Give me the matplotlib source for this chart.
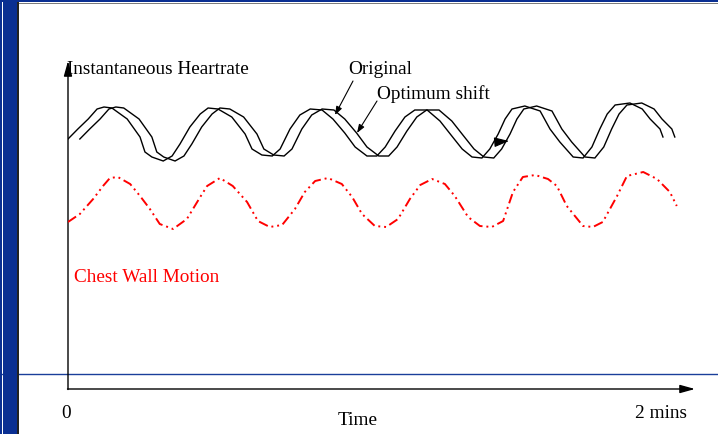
import matplotlib
matplotlib.use("Agg")
import matplotlib.pyplot as plt
from matplotlib.patches import Rectangle

# ---------------- data ----------------
# Instantaneous heart rate (original), time in seconds, value in arbitrary units
hr_time = [0.0, 2.0, 4.1, 5.9, 7.3, 8.9, 12.0, 14.6, 15.6, 17.0, 19.3, 21.1, 22.7, 24.7,
           26.8, 28.4, 30.4, 33.2, 35.9, 37.3, 39.3, 41.4, 43.0, 45.0, 47.0, 49.1, 51.5,
           53.7, 56.1, 58.2, 60.6, 62.6, 64.3, 66.3, 68.3, 70.3, 72.8, 75.4, 77.8, 79.9,
           81.9, 83.9, 85.5, 87.2, 88.6, 90.0, 92.6, 95.7, 97.7, 99.7, 102.4, 104.4, 106.2,
           107.8, 109.3, 110.9, 113.9, 116.4, 118.0, 120.0, 120.6]
hr_value = [250, 260, 270, 280, 282, 281, 270, 252, 237, 232, 228, 233, 245, 262,
            275, 281, 280, 272, 255, 240, 234, 233, 240, 260, 274, 280, 279,
            270, 256, 242, 233, 233, 242, 258, 272, 279, 279, 268, 253, 240,
            232, 231, 240, 255, 270, 280, 283, 278, 260, 247, 232, 231, 242,
            260, 275, 284, 286, 280, 270, 260, 252]
optimum_shift_s = 2.4  # optimum time shift of the heart-rate series

# Chest wall motion
cw_time = [0.0, 2.4, 5.1, 7.1, 8.5, 10.1, 12.6, 14.6, 16.6, 18.6, 21.3, 24.1, 26.8, 28.2,
           30.8, 33.4, 36.3, 38.5, 40.9, 43.4, 46.0, 48.0, 50.1, 52.7, 55.5, 57.6, 59.6,
           62.2, 64.5, 66.9, 69.3, 71.4, 73.8, 76.4, 78.4, 81.1, 83.5, 85.9, 88.2, 90.2,
           92.2, 94.7, 97.3, 99.1, 101.1, 104.4, 106.4, 108.4, 111.3, 113.3, 116.6, 119.4,
           122.0, 123.4]
cw_value = [167, 175, 190, 203, 211, 212, 205, 193, 180, 165, 160, 170, 192, 203,
            211, 203, 187, 168, 162, 164, 180, 197, 208, 211, 205, 192, 175,
            163, 162, 170, 190, 204, 210, 205, 193, 172, 163, 162, 168, 197,
            212, 214, 210, 203, 183, 163, 162, 167, 193, 213, 217, 210,
            197, 183]

x_labels = ["0", "2 mins"]

# ---------------- figure ----------------
W, H = 718, 435
fig = plt.figure(figsize=(W / 100, H / 100), dpi=100)
fig.patch.set_facecolor("white")

serif = ["Liberation Serif", "DejaVu Serif"]
BLUE = "#0a2f92"

# overlay (pixel coordinates) for frame decorations and text
ov = fig.add_axes([0, 0, 1, 1])
ov.set_xlim(0, W)
ov.set_ylim(H, 0)
ov.axis("off")

# horizontal blue rule
ov.plot([0, W], [374.5, 374.5], color="#1a3f9a", lw=1.0, zorder=1)
# top bar
ov.add_patch(Rectangle((0, -1), W, 4.2, color=BLUE, lw=0, zorder=3))
ov.plot([18, W], [3.8, 3.8], color="#444444", lw=0.5, zorder=3)
# left bars
ov.add_patch(Rectangle((-1, 0), 2.8, H, color=BLUE, lw=0, zorder=3))
ov.add_patch(Rectangle((2.8, 0), 14.6, H, color=BLUE, lw=0, zorder=3))
ov.add_patch(Rectangle((17.4, 3), 1.3, H, color="#222222", lw=0, zorder=3))

# axes arrows
x0, y0, xend, ytop = 68, 390, 695, 62
ov.annotate("", xy=(xend, y0), xytext=(x0 - 0.5, y0),
            arrowprops=dict(arrowstyle="-|>,head_length=0.9,head_width=0.25",
                            color="black", lw=1.0, shrinkA=0, shrinkB=0))
ov.annotate("", xy=(x0, ytop), xytext=(x0, y0 + 0.5),
            arrowprops=dict(arrowstyle="-|>,head_length=0.9,head_width=0.25",
                            color="black", lw=1.0, shrinkA=0, shrinkB=0))

# texts
fs = 13.9
ov.text(67, 70, "Instantaneous Heartrate", family=serif, fontsize=fs,
        ha="left", va="center", color="black")
ov.text(348, 70, "Original", family=serif, fontsize=fs, ha="left", va="center")
ov.text(377, 94, "Optimum shift", family=serif, fontsize=fs, ha="left", va="center")
ov.text(74, 278, "Chest Wall Motion", family=serif, fontsize=fs, ha="left",
        va="center", color="red")
ov.text(66, 414, x_labels[0], family=serif, fontsize=fs, ha="center", va="center")
ov.text(661, 414, x_labels[1], family=serif, fontsize=fs, ha="center", va="center")
ov.text(358, 421, "Time", family=serif, fontsize=fs, ha="center", va="center")

# label pointers
ov.annotate("", xy=(335, 116), xytext=(353, 82),
            arrowprops=dict(arrowstyle="-|>,head_length=0.5,head_width=0.18",
                            color="black", lw=0.8, shrinkA=0, shrinkB=0))
ov.annotate("", xy=(357, 134), xytext=(377, 102),
            arrowprops=dict(arrowstyle="-|>,head_length=0.5,head_width=0.18",
                            color="black", lw=0.8, shrinkA=0, shrinkB=0))
# shift direction arrow
ov.annotate("", xy=(509, 142), xytext=(497, 143),
            arrowprops=dict(arrowstyle="-|>,head_length=0.9,head_width=0.3",
                            color="black", lw=0.8, shrinkA=0, shrinkB=0))

# data axes: 0 s at x=68 px, arrow tip at 695 px; 120 s at 660 px
px_per_s = (660 - 68) / 120.0
ax = fig.add_axes([x0 / W, (H - y0) / H, (xend - x0) / W, (y0 - ytop) / H])
ax.set_xlim(0, (xend - x0) / px_per_s)
ax.set_ylim(0, y0 - ytop)
ax.axis("off")
ax.patch.set_alpha(0)

ax.plot(hr_time, hr_value, color="black", lw=1.0, solid_joinstyle="miter")
ax.plot([t + optimum_shift_s for t in hr_time], hr_value, color="black", lw=1.0,
        solid_joinstyle="miter")
ax.plot(cw_time, cw_value, color="red", lw=1.4,
        linestyle=(0, (5, 2, 1, 2, 1, 2)))

fig.savefig("out.png", dpi=100, facecolor="white")
